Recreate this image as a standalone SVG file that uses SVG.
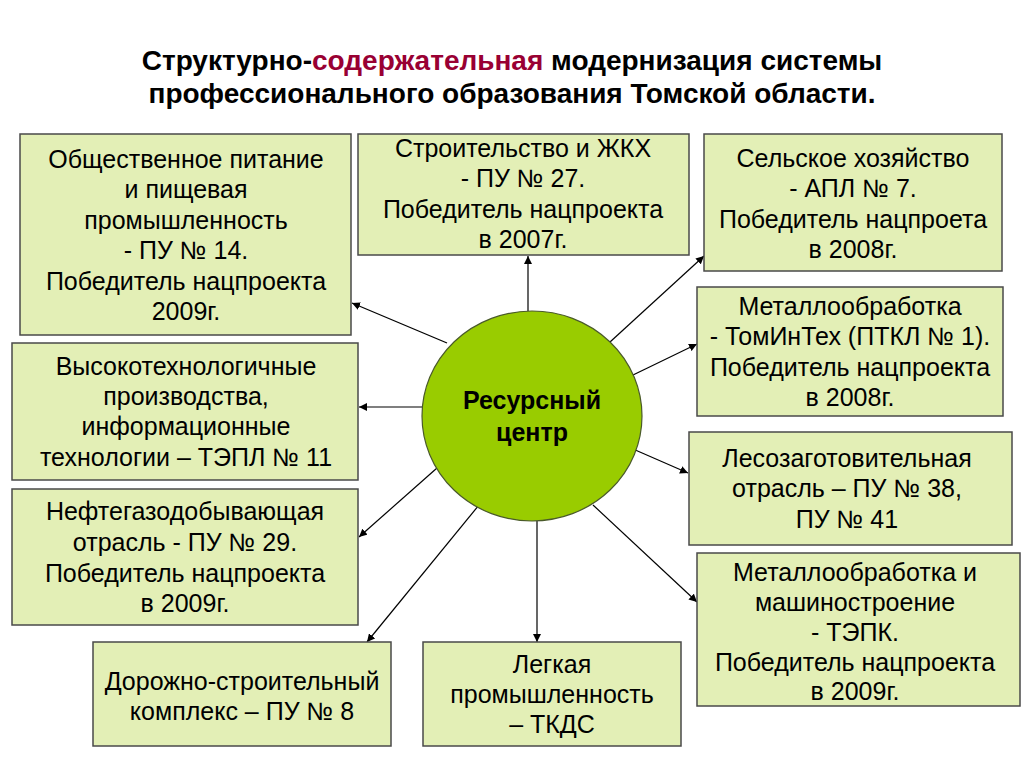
<svg xmlns="http://www.w3.org/2000/svg" width="1024" height="768" viewBox="0 0 1024 768">
<defs>
<style>
.box{fill:#e3efb6;stroke:#4a4a4a;stroke-width:1.5}
.t{font-family:"Liberation Sans",Arial,sans-serif;font-size:25px;fill:#000;text-anchor:middle}
.title{font-family:"Liberation Sans",Arial,sans-serif;font-size:28px;font-weight:bold;fill:#000;text-anchor:middle}
.c{font-family:"Liberation Sans",Arial,sans-serif;font-size:25px;font-weight:bold;fill:#000;text-anchor:middle}
.conn line{stroke:#000;stroke-width:1.2;marker-end:url(#arr)}
</style>
<marker id="arr" viewBox="0 0 10 10" refX="10" refY="5" markerWidth="8" markerHeight="8" markerUnits="userSpaceOnUse" orient="auto">
<path d="M0,0 L10,5 L0,10 z" fill="#000"/>
</marker>
</defs>
<rect width="1024" height="768" fill="#fff"/>
<g id="title">
<text class="title" x="512" y="70">Структурно-<tspan fill="#990033">содержательная</tspan> модернизация системы</text>
<text class="title" x="512" y="103">профессионального образования Томской области.</text>
</g>
<g id="connectors" class="conn">
<line x1="447" y1="343" x2="352" y2="303"/>
<line x1="528" y1="311" x2="528" y2="256"/>
<line x1="610" y1="342" x2="704" y2="256"/>
<line x1="633" y1="375" x2="697" y2="344"/>
<line x1="633" y1="449" x2="688" y2="473"/>
<line x1="423" y1="407" x2="359" y2="407"/>
<line x1="437" y1="468" x2="359" y2="537"/>
<line x1="479" y1="505" x2="367" y2="642"/>
<line x1="537" y1="521" x2="537" y2="642"/>
<line x1="593" y1="505" x2="697" y2="602"/>
</g>
<g id="center">
<ellipse cx="532" cy="416" rx="110" ry="105" fill="#99cc00" stroke="#4a5a2a" stroke-width="1.2"/>
<text class="c" x="532" y="409">Ресурсный</text>
<text class="c" x="532" y="441">центр</text>
</g>
<g id="n1">
<rect class="box" x="20" y="134" width="331" height="201"/>
<text class="t" x="186" y="168">Общественное питание</text>
<text class="t" x="186" y="198">и пищевая</text>
<text class="t" x="186" y="229">промышленность</text>
<text class="t" x="186" y="259">- ПУ № 14.</text>
<text class="t" x="186" y="290">Победитель нацпроекта</text>
<text class="t" x="186" y="320">2009г.</text>
</g>
<g id="n2">
<rect class="box" x="358" y="134" width="331" height="121"/>
<text class="t" x="523" y="157">Строительство и ЖКХ</text>
<text class="t" x="523" y="187">- ПУ № 27.</text>
<text class="t" x="523" y="218">Победитель нацпроекта</text>
<text class="t" x="523" y="248">в 2007г.</text>
</g>
<g id="n3">
<rect class="box" x="704" y="134" width="298" height="137"/>
<text class="t" x="853" y="167">Сельское хозяйство</text>
<text class="t" x="853" y="197">- АПЛ № 7.</text>
<text class="t" x="853" y="228">Победитель нацпроета</text>
<text class="t" x="853" y="258">в 2008г.</text>
</g>
<g id="n4">
<rect class="box" x="697" y="287" width="306" height="129"/>
<text class="t" x="850" y="315">Металлообработка</text>
<text class="t" x="850" y="345">- ТомИнТех (ПТКЛ № 1).</text>
<text class="t" x="850" y="376">Победитель нацпроекта</text>
<text class="t" x="850" y="406">в 2008г.</text>
</g>
<g id="n5">
<rect class="box" x="689" y="432" width="323" height="113"/>
<text class="t" x="847" y="467">Лесозаготовительная</text>
<text class="t" x="847" y="497">отрасль – ПУ № 38,</text>
<text class="t" x="847" y="528">ПУ № 41</text>
</g>
<g id="n6">
<rect class="box" x="697" y="553" width="323" height="153"/>
<text class="t" x="855" y="581">Металлообработка и</text>
<text class="t" x="855" y="611">машиностроение</text>
<text class="t" x="855" y="641">- ТЭПК.</text>
<text class="t" x="855" y="671">Победитель нацпроекта</text>
<text class="t" x="855" y="700">в 2009г.</text>
</g>
<g id="n7">
<rect class="box" x="12" y="343" width="346" height="137"/>
<text class="t" x="186" y="375">Высокотехнологичные</text>
<text class="t" x="186" y="405">производства,</text>
<text class="t" x="186" y="435">информационные</text>
<text class="t" x="186" y="466">технологии – ТЭПЛ № 11</text>
</g>
<g id="n8">
<rect class="box" x="12" y="489" width="346" height="136"/>
<text class="t" x="185" y="520">Нефтегазодобывающая</text>
<text class="t" x="185" y="551">отрасль - ПУ № 29.</text>
<text class="t" x="185" y="582">Победитель нацпроекта</text>
<text class="t" x="185" y="612">в 2009г.</text>
</g>
<g id="n9">
<rect class="box" x="93" y="642" width="298" height="104"/>
<text class="t" x="242" y="690">Дорожно-строительный</text>
<text class="t" x="242" y="720">комплекс – ПУ № 8</text>
</g>
<g id="n10">
<rect class="box" x="423" y="642" width="258" height="104"/>
<text class="t" x="552" y="673">Легкая</text>
<text class="t" x="552" y="703">промышленность</text>
<text class="t" x="552" y="733">– ТКДС</text>
</g>
</svg>
